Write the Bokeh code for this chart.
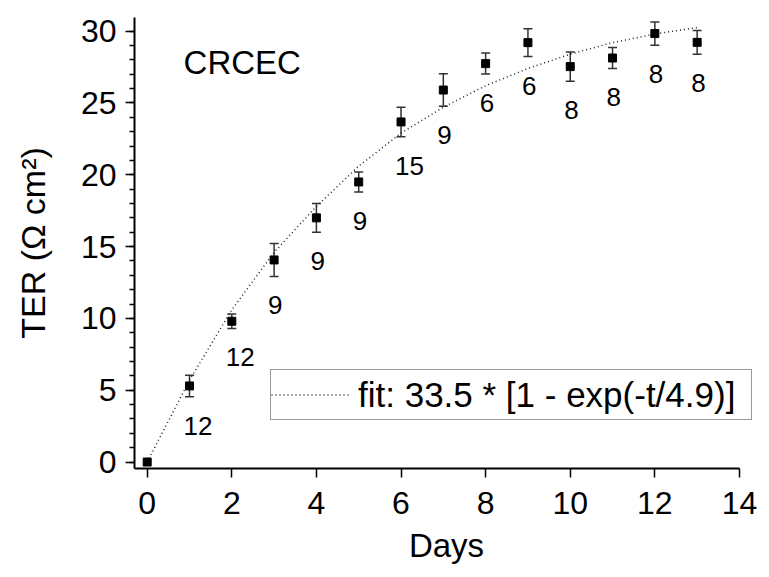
from bokeh.plotting import figure
from bokeh.models import (ColumnDataSource, Whisker, TeeHead, Label, Legend, LegendItem,
                          SingleIntervalTicker, Range1d)
from bokeh.core.properties import value
from bokeh.embed import file_html
from bokeh.resources import INLINE

# ---- data ----
days = [0, 1, 2, 3, 4, 5, 6, 7, 8, 9, 10, 11, 12, 13]
ter = [0.0, 5.3, 9.8, 14.07, 17.0, 19.5, 23.68, 25.9, 27.74, 29.2, 27.53, 28.13, 29.83, 29.22]
ter_err = [0.0, 0.75, 0.5, 1.15, 1.0, 0.7, 1.03, 1.13, 0.73, 0.97, 1.02, 0.73, 0.81, 0.82]
n_cells = ["", "12", "12", "9", "9", "9", "15", "9", "6", "6", "8", "8", "8", "8"]

fit_days = [0, 1, 2, 3, 4, 5, 6, 7, 8, 9, 10, 11, 12, 13]
fit_ter = [0.0, 5.7, 10.6, 14.6, 17.8, 20.6, 22.9, 24.7, 26.2, 27.4, 28.4, 29.2, 29.8, 30.25]

fit_label = "fit: 33.5 * [1 - exp(-t/4.9)]"
panel_title = "CRCEC"
x_title = "Days"
y_title = "TER (\u03a9 cm\u00b2)"

FONT = "Liberation Sans"

p = figure(frame_width=624, frame_height=451,
           min_border_left=134, min_border_top=17, min_border_right=3, min_border_bottom=100,
           x_range=Range1d(-0.3, 14.45), y_range=Range1d(-0.45, 30.95),
           output_backend="svg", toolbar_location=None)
p.grid.visible = False
p.outline_line_color = None
p.background_fill_color = "white"
p.border_fill_color = "white"

# axes
p.xaxis.ticker = SingleIntervalTicker(interval=2, num_minor_ticks=0)
p.xaxis.bounds = (-0.3, 14)
p.yaxis.ticker = SingleIntervalTicker(interval=5, num_minor_ticks=5)
for ax in (p.xaxis[0], p.yaxis[0]):
    ax.axis_line_width = 2
    ax.axis_line_color = "black"
    ax.major_tick_in = 0
    ax.major_tick_out = 9
    ax.minor_tick_in = 0
    ax.minor_tick_out = 5
    ax.major_tick_line_width = 1.5
    ax.minor_tick_line_width = 1.5
    ax.major_tick_line_color = "black"
    ax.minor_tick_line_color = "black"
    ax.major_label_text_font = FONT
    ax.major_label_text_font_size = "32px"
    ax.major_label_text_color = "black"
    ax.axis_label_text_font = FONT
    ax.axis_label_text_font_style = "normal"
    ax.axis_label_text_color = "black"
p.xaxis.minor_tick_line_color = None
p.xaxis.axis_label = x_title
p.xaxis.axis_label_text_font_size = "33px"
p.xaxis.major_label_standoff = 14
p.xaxis.axis_label_standoff = 10
p.yaxis.axis_label = y_title
p.yaxis.axis_label_text_font_size = "34px"
p.yaxis.major_label_standoff = 9
p.yaxis.axis_label_standoff = 26

# fit curve
fit_src = ColumnDataSource(dict(t=fit_days, y=fit_ter))
fit_r = p.line("t", "y", source=fit_src, line_color="#222222", line_width=1.5, line_dash="1 3")

# error bars
eb_days = [d for d, e in zip(days, ter_err) if e > 0]
eb_up = [v + e for v, e in zip(ter, ter_err) if e > 0]
eb_lo = [v - e for v, e in zip(ter, ter_err) if e > 0]
eb_src = ColumnDataSource(dict(base=eb_days, upper=eb_up, lower=eb_lo))
p.add_layout(Whisker(source=eb_src, base="base", upper="upper", lower="lower",
                     dimension="height", line_color="#333333", line_width=1.5,
                     upper_head=TeeHead(size=9, line_color="#333333", line_width=1.5),
                     lower_head=TeeHead(size=9, line_color="#333333", line_width=1.5)))

# points
pt_src = ColumnDataSource(dict(t=days, y=ter))
p.scatter("t", "y", source=pt_src, marker="square", size=8, fill_color="black", line_color="black")

# n labels
lab_src = ColumnDataSource(dict(t=days[1:], y=[v - e for v, e in zip(ter[1:], ter_err[1:])], n=n_cells[1:]))
p.text("t", "y", text="n", source=lab_src, text_font=value(FONT), text_font_size="26px",
       text_align="left", text_baseline="middle", x_offset=-6, y_offset=29, text_color="black")

# panel title
p.add_layout(Label(x=0.86, y=27.8, text=panel_title, text_font=FONT, text_font_size="33px",
                   text_align="left", text_baseline="alphabetic", text_color="black"))

# legend
legend = Legend(items=[LegendItem(label=fit_label, renderers=[fit_r])], location=(136, 48),
                padding=0, margin=0, spacing=0, label_standoff=8,
                glyph_width=79, glyph_height=49, label_height=49, label_width=393,
                label_text_font=FONT, label_text_font_size="35px", label_text_color="black",
                border_line_color="#333333", border_line_width=1,
                background_fill_color="white", background_fill_alpha=1.0)
p.add_layout(legend)

open("out.html", "w").write(file_html(p, INLINE))
